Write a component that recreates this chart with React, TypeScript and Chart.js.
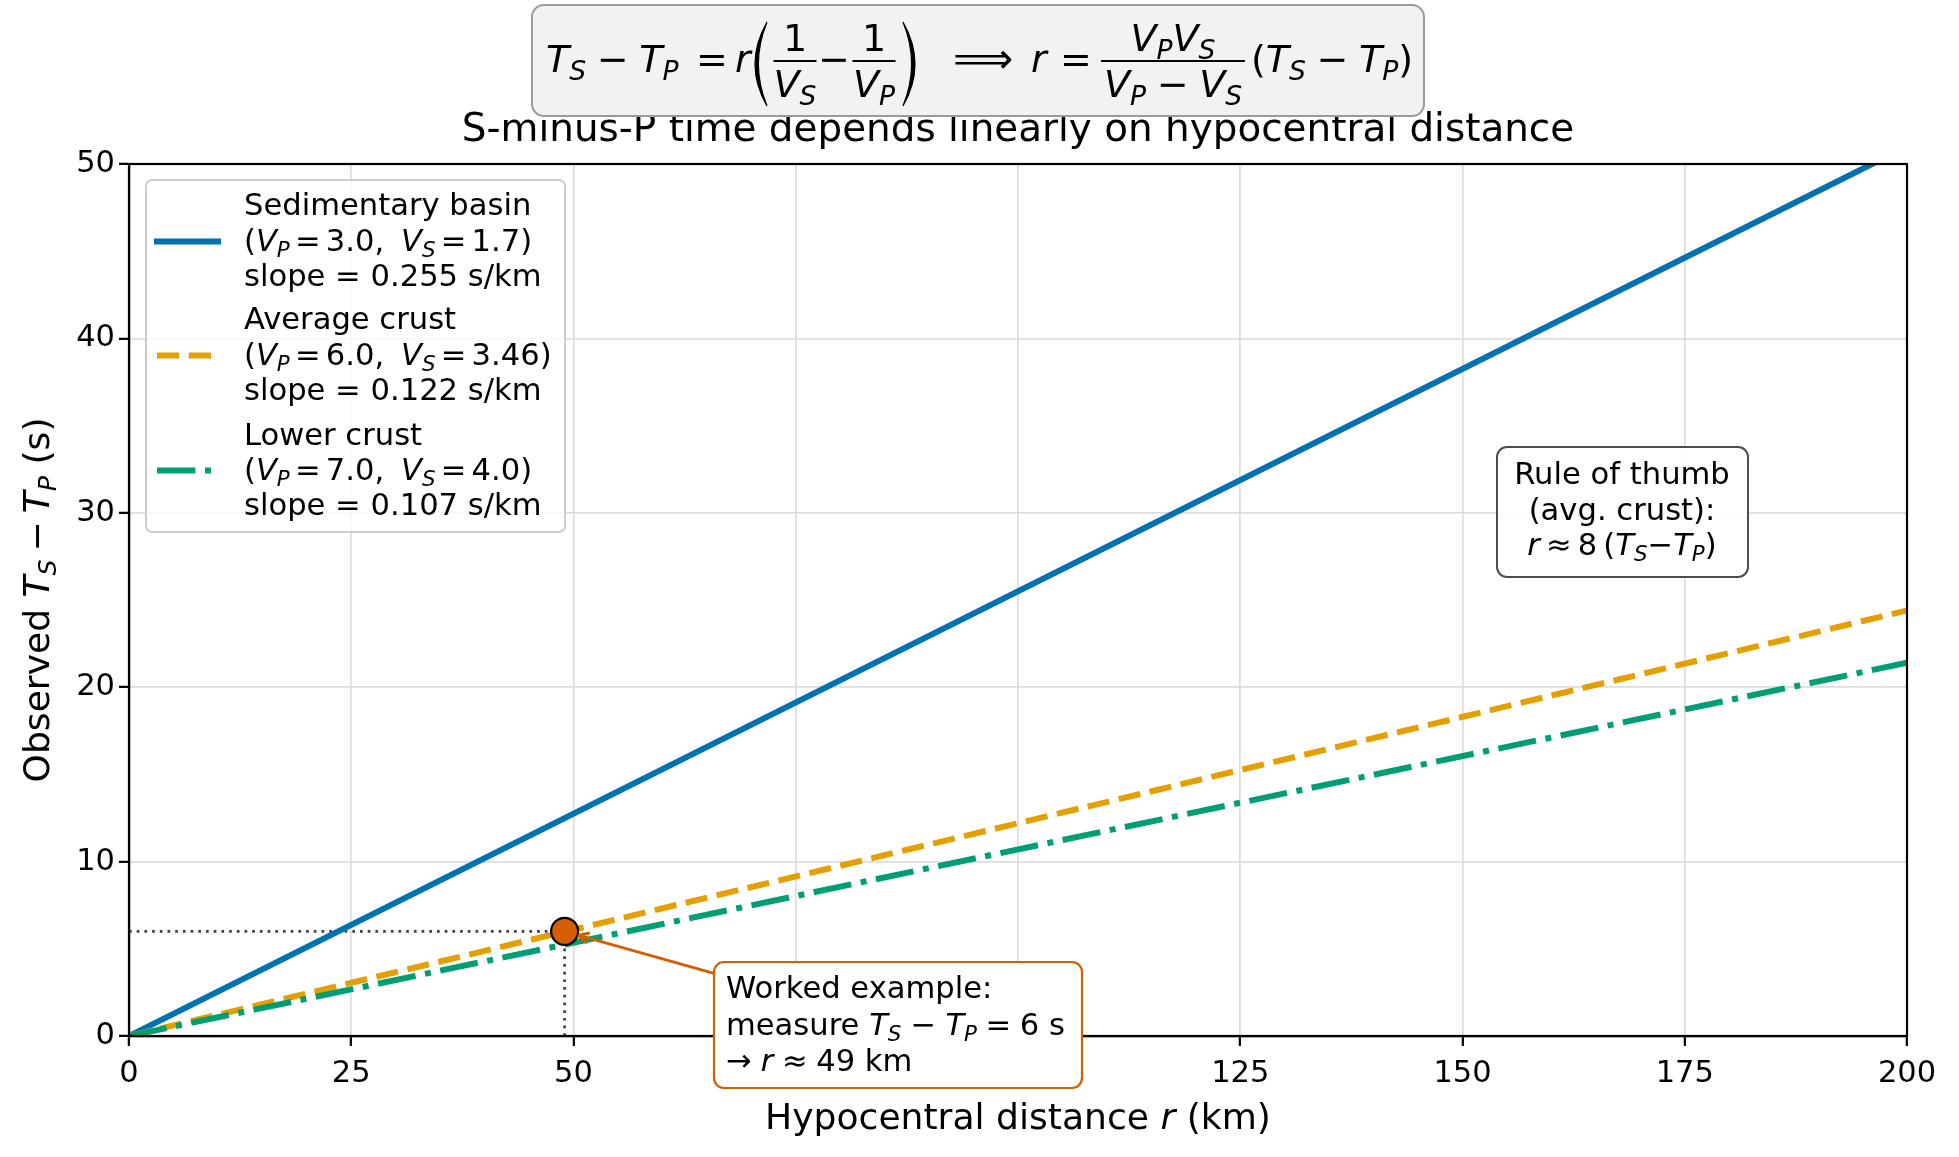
import { useEffect, useRef } from 'react';
import { Chart, registerables } from 'chart.js';

Chart.register(...registerables);

// Velocity models (km/s) and the S−P slope each one gives (s/km)
const modelNames = ['Sedimentary basin', 'Average crust', 'Lower crust'];
const vpValues = [3.0, 6.0, 7.0];
const vsValues = [1.7, 3.46, 4.0];
const slopeValues = [0.255, 0.122, 0.107];

// Distance span of the model lines (km)
const distanceRange = [0, 200];

// Axis ticks
const xTickValues = [0, 25, 50, 75, 100, 125, 150, 175, 200];
const yTickValues = [0, 10, 20, 30, 40, 50];

// Worked example: measured S−P delay (s) and the distance it implies (km)
const exampleDelay = 6;
const exampleDistance = 49;
const ruleFactor = 8;

const titleText = 'S-minus-P time depends linearly on hypocentral distance';

// Styling
const COLORS = ['#0072b2', '#e69f00', '#009e73'];
const LW = 6;
const DASHES: number[][] = [[], [22.2, 9.6], [38.4, 9.6, 6, 9.6]];
const EXAMPLE_COLOR = '#d55e00';
const FAMILY = '"DejaVu Sans", sans-serif';
const TEXT_FS = 30.6;

type Seg = { t?: string; it?: boolean; sub?: boolean; w?: number };

const fmtVel = (v: number) => (Number.isInteger(v) ? v.toFixed(1) : String(v));
const sym = (base: string, sub: string): Seg[] => [
  { t: base, it: true },
  { t: sub, it: true, sub: true },
];
const op = (o: string, gap = 0.2): Seg[] => [{ w: gap }, { t: o }, { w: gap }];

const segFont = (fs: number, s: Seg) =>
  `${s.it ? 'italic ' : ''}${s.sub ? fs * 0.7 : fs}px ${FAMILY}`;

function runWidth(ctx: CanvasRenderingContext2D, segs: Seg[], fs: number) {
  let w = 0;
  for (const s of segs) {
    if (s.w !== undefined) {
      w += s.w * fs;
      continue;
    }
    ctx.font = segFont(fs, s);
    w += ctx.measureText(s.t || '').width;
  }
  return w;
}

function drawRun(ctx: CanvasRenderingContext2D, segs: Seg[], x: number, y: number, fs: number) {
  ctx.textAlign = 'left';
  ctx.textBaseline = 'alphabetic';
  for (const s of segs) {
    if (s.w !== undefined) {
      x += s.w * fs;
      continue;
    }
    ctx.font = segFont(fs, s);
    ctx.fillText(s.t || '', x, s.sub ? y + fs * 0.2 : y);
    x += ctx.measureText(s.t || '').width;
  }
  return x;
}

function drawRunCentered(ctx: CanvasRenderingContext2D, segs: Seg[], cx: number, y: number, fs: number) {
  const w = runWidth(ctx, segs, fs);
  drawRun(ctx, segs, cx - w / 2, y, fs);
}

// Tall delimiter drawn as a crescent, thicker at its middle
function drawParen(ctx: CanvasRenderingContext2D, xl: number, xr: number, top: number, bot: number, open: boolean) {
  const mid = (top + bot) / 2;
  const th = 3.4;
  ctx.save();
  ctx.fillStyle = '#000';
  ctx.strokeStyle = '#000';
  ctx.lineWidth = 1.2;
  ctx.beginPath();
  if (open) {
    ctx.moveTo(xr, top);
    ctx.quadraticCurveTo(2 * xl - xr, mid, xr, bot);
    ctx.quadraticCurveTo(2 * (xl + th) - xr, mid, xr, top);
  } else {
    ctx.moveTo(xl, top);
    ctx.quadraticCurveTo(2 * xr - xl, mid, xl, bot);
    ctx.quadraticCurveTo(2 * (xr - th) - xl, mid, xl, top);
  }
  ctx.closePath();
  ctx.fill();
  ctx.stroke();
  ctx.restore();
}

function drawFrac(
  ctx: CanvasRenderingContext2D,
  num: Seg[],
  den: Seg[],
  cx: number,
  barW: number,
  barY: number,
  numBase: number,
  denBase: number,
  fs: number,
) {
  ctx.fillRect(cx - barW / 2, barY - 1, barW, 2);
  drawRunCentered(ctx, num, cx, numBase, fs);
  drawRunCentered(ctx, den, cx, denBase, fs);
}

function roundBox(
  ctx: CanvasRenderingContext2D,
  x: number,
  y: number,
  w: number,
  h: number,
  r: number,
  fill: string,
  stroke: string,
  lw: number,
) {
  ctx.beginPath();
  ctx.roundRect(x, y, w, h, r);
  ctx.fillStyle = fill;
  ctx.fill();
  ctx.lineWidth = lw;
  ctx.strokeStyle = stroke;
  ctx.stroke();
}

function drawFormulaBox(ctx: CanvasRenderingContext2D) {
  roundBox(ctx, 532, 5, 892, 111, 12, '#f2f2f2', '#9a9a9a', 2);
  const F = 38;
  const base = 72;
  const barY = 61;
  const numBase = 51;
  const denBase = 97;
  ctx.fillStyle = '#000';
  const diff: Seg[] = [...sym('T', 'S'), ...op('−', 0.28), ...sym('T', 'P')];
  drawRun(ctx, diff, 546, base, F);
  drawRun(ctx, [{ t: '=' }], 696, base, F);
  drawRun(ctx, [{ t: 'r', it: true }], 735, base, F);
  drawParen(ctx, 755, 767, 22, 106, true);
  drawFrac(ctx, [{ t: '1' }], sym('V', 'S'), 795, 43, barY, numBase, denBase, F);
  drawRunCentered(ctx, [{ t: '−' }], 834, base, F);
  drawFrac(ctx, [{ t: '1' }], sym('V', 'P'), 874, 43, barY, numBase, denBase, F);
  drawParen(ctx, 903, 915, 22, 106, false);
  drawRunCentered(ctx, [{ t: '⟹' }], 983, base + 1, 42);
  drawRun(ctx, [{ t: 'r', it: true }], 1031, base, F);
  drawRun(ctx, [{ t: '=' }], 1060, base, F);
  drawFrac(
    ctx,
    [...sym('V', 'P'), ...sym('V', 'S')],
    [...sym('V', 'P'), ...op('−', 0.28), ...sym('V', 'S')],
    1173,
    144,
    barY,
    numBase,
    denBase,
    F,
  );
  drawRun(ctx, [{ t: '(' }, ...diff, { t: ')' }], 1251, base, F);
}

function drawLegend(ctx: CanvasRenderingContext2D) {
  roundBox(ctx, 146, 180, 419, 352, 6, 'rgba(255,255,255,0.8)', '#cccccc', 2);
  const baselines = [
    [215, 251, 286],
    [329, 365, 400],
    [445, 480, 515],
  ];
  modelNames.forEach((name, i) => {
    const lines: Seg[][] = [
      [{ t: name }],
      [
        { t: '(' },
        ...sym('V', 'P'),
        ...op('=', 0.17),
        { t: fmtVel(vpValues[i]) + ',' },
        { w: 0.55 },
        ...sym('V', 'S'),
        ...op('=', 0.17),
        { t: fmtVel(vsValues[i]) + ')' },
      ],
      [{ t: `slope = ${slopeValues[i].toFixed(3)} s/km` }],
    ];
    ctx.fillStyle = '#000';
    lines.forEach((segs, k) => drawRun(ctx, segs, 244, baselines[i][k], TEXT_FS));
    const sy = baselines[i][1] - 9.5;
    ctx.save();
    ctx.strokeStyle = COLORS[i];
    ctx.lineWidth = LW;
    ctx.setLineDash(DASHES[i]);
    ctx.lineCap = i === 0 ? 'square' : 'butt';
    ctx.beginPath();
    ctx.moveTo(157, sy);
    ctx.lineTo(218, sy);
    ctx.stroke();
    ctx.restore();
  });
}

function drawRuleBox(ctx: CanvasRenderingContext2D) {
  roundBox(ctx, 1497, 447, 251, 130, 10, 'rgba(255,255,255,0.9)', '#4d4d4d', 2);
  ctx.fillStyle = '#000';
  const cx = 1622;
  drawRunCentered(ctx, [{ t: 'Rule of thumb' }], cx, 484, TEXT_FS);
  drawRunCentered(ctx, [{ t: '(avg. crust):' }], cx, 520, TEXT_FS);
  drawRunCentered(
    ctx,
    [
      { t: 'r', it: true },
      ...op('≈', 0.2),
      { t: String(ruleFactor) },
      { w: 0.2 },
      { t: '(' },
      ...sym('T', 'S'),
      { t: '−' },
      ...sym('T', 'P'),
      { t: ')' },
    ],
    cx,
    555,
    TEXT_FS,
  );
}

function drawExample(ctx: CanvasRenderingContext2D, chart: Chart) {
  const px = chart.scales.x.getPixelForValue(exampleDistance);
  const py = chart.scales.y.getPixelForValue(exampleDelay);
  const box = { x: 714, y: 962, w: 368, h: 126 };
  // leader from the box edge toward the marker
  const bcx = box.x + box.w / 2;
  const bcy = box.y + box.h / 2;
  const dx = px - bcx;
  const dy = py - bcy;
  const len = Math.hypot(dx, dy);
  const ux = dx / len;
  const uy = dy / len;
  const tEdge = Math.min(Math.abs(box.w / 2 / ux), Math.abs(box.h / 2 / uy));
  const sx = bcx + ux * tEdge;
  const sy = bcy + uy * tEdge;
  const tx = px - ux * 14;
  const ty = py - uy * 14;
  ctx.save();
  ctx.strokeStyle = EXAMPLE_COLOR;
  ctx.lineWidth = 3;
  ctx.beginPath();
  ctx.moveTo(sx, sy);
  ctx.lineTo(tx, ty);
  const ang = Math.atan2(uy, ux);
  const head = 12;
  for (const s of [-1, 1]) {
    const a = ang + Math.PI + s * 0.45;
    ctx.moveTo(tx, ty);
    ctx.lineTo(tx + Math.cos(a) * head, ty + Math.sin(a) * head);
  }
  ctx.stroke();
  ctx.restore();

  roundBox(ctx, box.x, box.y, box.w, box.h, 10, '#ffffff', EXAMPLE_COLOR, 2.2);
  ctx.fillStyle = '#000';
  drawRun(ctx, [{ t: 'Worked example:' }], 726, 998, TEXT_FS);
  drawRun(
    ctx,
    [
      { t: 'measure ' },
      ...sym('T', 'S'),
      ...op('−', 0.3),
      ...sym('T', 'P'),
      ...op('=', 0.28),
      { t: String(exampleDelay) },
      { t: ' s' },
    ],
    726,
    1035,
    TEXT_FS,
  );
  drawRun(
    ctx,
    [
      { t: '→' },
      { w: 0.3 },
      { t: 'r', it: true },
      ...op('≈', 0.28),
      { t: String(exampleDistance) },
      { t: ' km' },
    ],
    726,
    1071,
    TEXT_FS,
  );
}

const decorPlugin = {
  id: 'decor',
  afterDatasetsDraw(chart: Chart) {
    const { ctx, chartArea: a } = chart;
    ctx.save();
    ctx.strokeStyle = '#000';
    ctx.lineWidth = 2.2;
    ctx.strokeRect(a.left, a.top, a.right - a.left, a.bottom - a.top);
    ctx.restore();
  },
  afterDraw(chart: Chart) {
    const { ctx, chartArea: a } = chart;
    ctx.save();
    const cx = (a.left + a.right) / 2;
    ctx.fillStyle = '#000';
    // title (the formula box sits over its top edge)
    ctx.font = `38.9px ${FAMILY}`;
    ctx.textAlign = 'center';
    ctx.textBaseline = 'alphabetic';
    ctx.fillText(titleText, cx, 141);
    drawFormulaBox(ctx);

    // axis titles
    ctx.fillStyle = '#000';
    drawRunCentered(
      ctx,
      [{ t: 'Hypocentral distance ' }, { t: 'r', it: true }, { t: ' (km)' }],
      cx,
      1129,
      36.1,
    );
    ctx.save();
    ctx.translate(49, (a.top + a.bottom) / 2);
    ctx.rotate(-Math.PI / 2);
    drawRunCentered(
      ctx,
      [{ t: 'Observed ' }, ...sym('T', 'S'), ...op('−', 0.22), ...sym('T', 'P'), { t: ' (s)' }],
      0,
      0,
      36.1,
    );
    ctx.restore();

    drawLegend(ctx);
    drawRuleBox(ctx);
    drawExample(ctx, chart);
    ctx.restore();
  },
};

export default function App() {
  const canvasRef = useRef<HTMLCanvasElement | null>(null);

  useEffect(() => {
    document.body.style.margin = '0';
    const canvas = canvasRef.current;
    if (!canvas) return;

    const modelSets = modelNames.map((name, i) => ({
      type: 'line' as const,
      label: name,
      data: distanceRange.map((r) => ({ x: r, y: r * slopeValues[i] })),
      borderColor: COLORS[i],
      borderWidth: LW,
      borderDash: DASHES[i],
      borderCapStyle: (i === 0 ? 'square' : 'butt') as CanvasLineCap,
      pointRadius: 0,
      fill: false,
      tension: 0,
      clip: 0,
      order: 3 - i,
    }));

    const guideStyle = {
      type: 'line' as const,
      borderColor: '#404040',
      borderWidth: 2.7,
      borderDash: [2.7, 5],
      pointRadius: 0,
      fill: false,
      clip: 0,
      order: 5,
    };

    const chart = new Chart(canvas, {
      type: 'line',
      data: {
        datasets: [
          ...modelSets,
          {
            ...guideStyle,
            label: 'delay guide',
            data: [
              { x: distanceRange[0], y: exampleDelay },
              { x: exampleDistance, y: exampleDelay },
            ],
          },
          {
            ...guideStyle,
            label: 'distance guide',
            data: [
              { x: exampleDistance, y: 0 },
              { x: exampleDistance, y: exampleDelay },
            ],
          },
          {
            type: 'line' as const,
            label: 'worked example',
            data: [{ x: exampleDistance, y: exampleDelay }],
            showLine: false,
            pointRadius: 13.5,
            pointBackgroundColor: EXAMPLE_COLOR,
            pointBorderColor: '#000',
            pointBorderWidth: 2.2,
            clip: false,
            order: 0,
          },
        ],
      },
      options: {
        responsive: false,
        animation: false,
        devicePixelRatio: 1,
        layout: { padding: { left: 0, right: 52, top: 164, bottom: 0 } },
        plugins: {
          legend: { display: false },
          title: { display: false },
          tooltip: { enabled: false },
        },
        scales: {
          x: {
            type: 'linear',
            min: xTickValues[0],
            max: xTickValues[xTickValues.length - 1],
            afterBuildTicks: (s: any) => {
              s.ticks = xTickValues.map((v) => ({ value: v }));
            },
            afterFit: (s: any) => {
              s.height = 121;
            },
            ticks: {
              color: '#000',
              font: { family: FAMILY, size: 30.5 },
              padding: 10,
              maxRotation: 0,
              autoSkip: false,
            },
            grid: {
              color: '#dddddd',
              lineWidth: 1.7,
              tickColor: '#000',
              tickLength: 10,
              tickWidth: 2.2,
            },
            border: { display: true, color: '#000', width: 2.2 },
          },
          y: {
            type: 'linear',
            min: yTickValues[0],
            max: yTickValues[yTickValues.length - 1],
            afterBuildTicks: (s: any) => {
              s.ticks = yTickValues.map((v) => ({ value: v }));
            },
            afterFit: (s: any) => {
              s.width = 129;
            },
            ticks: {
              color: '#000',
              font: { family: FAMILY, size: 30.5 },
              padding: 4,
              autoSkip: false,
            },
            grid: {
              color: '#dddddd',
              lineWidth: 1.7,
              tickColor: '#000',
              tickLength: 10,
              tickWidth: 2.2,
            },
            border: { display: true, color: '#000', width: 2.2 },
          },
        },
      },
      plugins: [decorPlugin],
    });

    return () => chart.destroy();
  }, []);

  return (
    <div style={{ width: 1959, height: 1157, position: 'relative' }}>
      <canvas ref={canvasRef} width={1959} height={1157} style={{ display: 'block', width: 1959, height: 1157 }} />
    </div>
  );
}
